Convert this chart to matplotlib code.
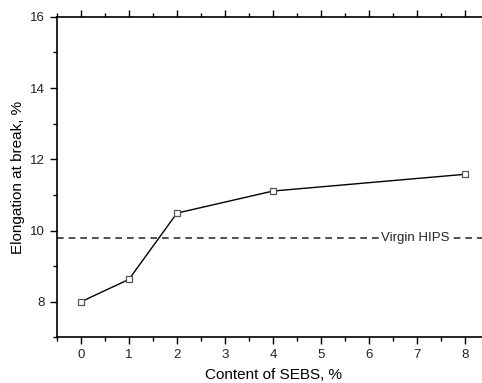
import matplotlib
matplotlib.use('Agg')
import matplotlib.pyplot as plt
from matplotlib.ticker import MultipleLocator

# Data
sebs_content = [0, 1, 2, 4, 8]
elongation = [8.0, 8.63, 10.49, 11.11, 11.58]
virgin_hips = 9.78
x_ticks = [0, 1, 2, 3, 4, 5, 6, 7, 8]

plt.rcParams['font.family'] = ['Liberation Sans', 'DejaVu Sans']
plt.rcParams['text.color'] = '#222222'

fig = plt.figure(figsize=(4.82, 3.83), dpi=100)
ax = fig.add_axes([0.118, 0.119, 0.897, 0.837])

# Reference line
ax.axhline(virgin_hips, color='#333333', linestyle=(0, (4, 3)), linewidth=1.2)
ax.text(6.95, virgin_hips, 'Virgin HIPS', ha='center', va='center', fontsize=9.5,
        color='#222222', bbox=dict(facecolor='white', edgecolor='none', pad=1))

# Series
ax.plot(sebs_content, elongation, color='black', linewidth=1.0,
        marker='s', markersize=5, markerfacecolor='white',
        markeredgecolor='#555555', markeredgewidth=0.9)

ax.set_xlim(-0.5, 8.5)
ax.set_ylim(7, 16)
ax.set_xticks(x_ticks)
ax.xaxis.set_minor_locator(MultipleLocator(0.5))
ax.yaxis.set_major_locator(MultipleLocator(2))
ax.yaxis.set_minor_locator(MultipleLocator(1))

ax.tick_params(which='both', direction='out', top=True, right=False,
               labelsize=9.5, width=1, labelcolor='#222222')
ax.tick_params(which='major', length=5)
ax.tick_params(which='minor', length=3)
for side in ['left', 'bottom', 'top']:
    ax.spines[side].set_linewidth(1.2)
ax.spines['right'].set_visible(False)

ax.set_xlabel('Content of SEBS, %', fontsize=11, labelpad=5)
ax.set_ylabel('Elongation at break, %', fontsize=11)

fig.savefig('out.png', dpi=100)
